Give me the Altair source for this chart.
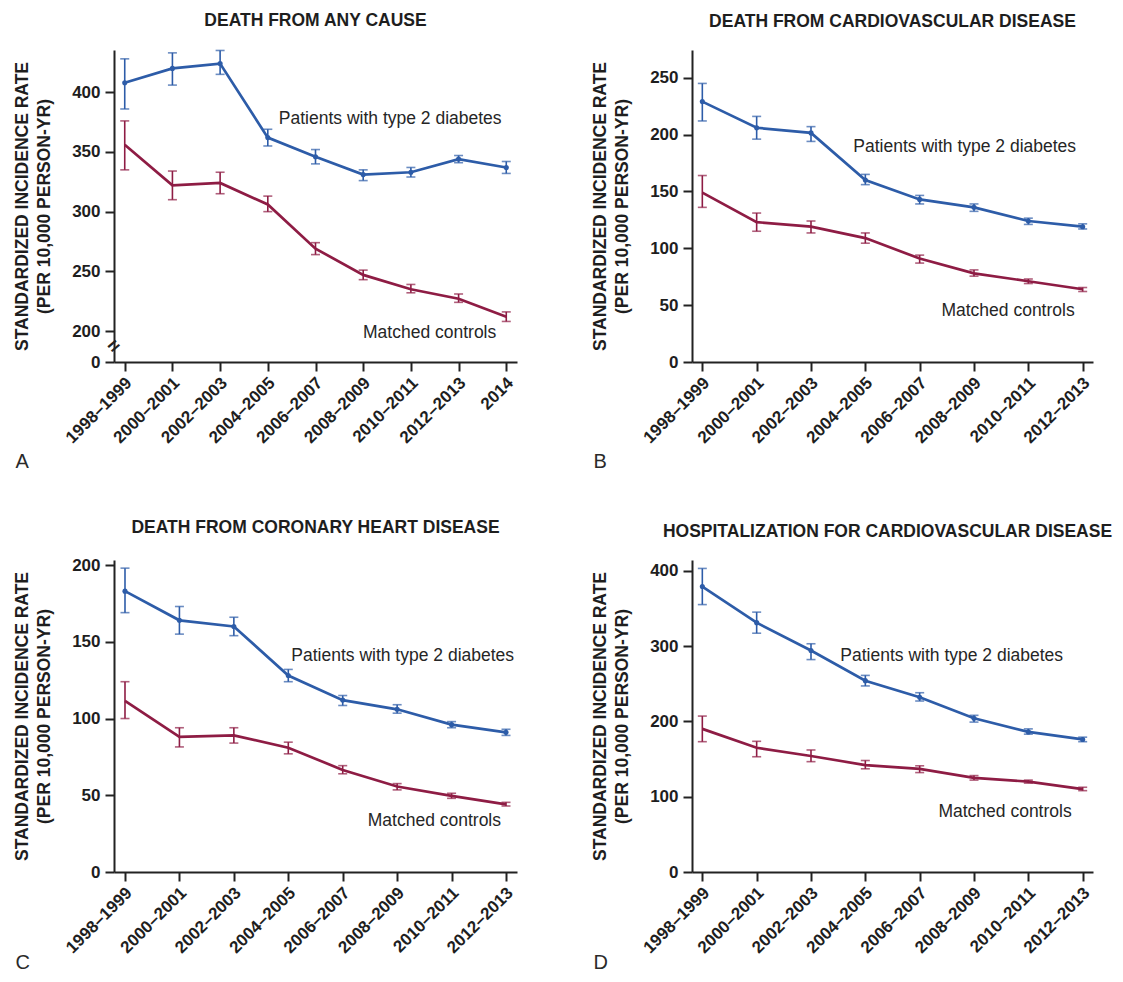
import altair as alt
import pandas as pd

FONT = "Liberation Sans"
BLUE = "#2d5ca8"
RED = "#8e1c44"
INK = "#1e1e1e"

DIAB = "Patients with type 2 diabetes"
CTRL = "Matched controls"

CATS_9 = ["1998–1999", "2000–2001", "2002–2003", "2004–2005", "2006–2007",
          "2008–2009", "2010–2011", "2012–2013", "2014"]
CATS_8 = ["1998–1999", "2000–2001", "2002–2003", "2004–2005", "2006–2007",
          "2008–2009", "2010–2011", "2012–2013"]

# Panel A: death from any cause
A_DIAB = [408, 420, 424, 362, 346, 331, 333, 344, 337]
A_DIAB_LO = [386, 406, 415, 355, 340, 326, 329, 341, 332]
A_DIAB_HI = [428, 433, 435, 369, 352, 335, 337, 347, 342]
A_CTRL = [356, 322, 324, 306, 269, 247, 235, 227, 212]
A_CTRL_LO = [335, 310, 315, 300, 264, 243, 232, 224, 208]
A_CTRL_HI = [376, 334, 333, 313, 274, 251, 239, 231, 216]

# Panel B: death from cardiovascular disease
B_DIAB = [229, 206, 201.5, 160, 143, 136, 124, 119]
B_DIAB_LO = [212, 196, 194, 156, 139, 132.5, 121, 117]
B_DIAB_HI = [245, 216, 207, 165, 146.5, 139, 126.5, 121.5]
B_CTRL = [149, 123, 119, 109, 91, 78, 71, 64]
B_CTRL_LO = [136, 115, 113.5, 104.5, 87, 75.5, 69, 62]
B_CTRL_HI = [164, 131, 124, 113.5, 94, 81, 73, 65.5]

# Panel C: death from coronary heart disease
C_DIAB = [183, 164, 160, 128, 112, 106, 96, 91]
C_DIAB_LO = [169, 155, 154, 124, 108.5, 103.5, 94, 89]
C_DIAB_HI = [198, 173, 166, 132, 115, 109, 98, 93]
C_CTRL = [111.5, 88, 89, 81, 66.5, 55.7, 49.6, 44.1]
C_CTRL_LO = [100, 81.5, 84, 77, 64, 53.5, 48, 43]
C_CTRL_HI = [124, 94, 94, 84.6, 69.3, 57.6, 51.3, 45.4]

# Panel D: hospitalization for cardiovascular disease
D_DIAB = [379, 331, 294, 254, 232, 204, 186, 176]
D_DIAB_LO = [355, 317, 282, 247, 227, 199, 183, 173]
D_DIAB_HI = [403, 345, 303, 261, 238, 208, 190, 179]
D_CTRL = [190, 165, 154, 142, 137, 125, 120, 110]
D_CTRL_LO = [173, 153, 146.5, 137, 132, 122, 118, 108]
D_CTRL_HI = [207, 173.5, 162, 148, 141, 128, 122, 112.5]

Y_TITLE = ["STANDARDIZED INCIDENCE RATE", "(PER 10,000 PERSON-YR)"]
H = 312


def panel(cats, diab, diab_lo, diab_hi, ctrl, ctrl_lo, ctrl_hi, title, letter,
          width, pad, ydomain, yrange, yticks, ann_diab, ann_ctrl, letter_y,
          title_dx=0, brk=False):
    rows = []
    for i, c in enumerate(cats):
        rows.append(dict(cat=c, group=DIAB, value=diab[i], lo=diab_lo[i], hi=diab_hi[i]))
        rows.append(dict(cat=c, group=CTRL, value=ctrl[i], lo=ctrl_lo[i], hi=ctrl_hi[i]))
    df = pd.DataFrame(rows)

    xs = alt.Scale(type="point", domain=cats, padding=pad)
    if yrange is not None:
        ys = alt.Scale(domain=ydomain, range=yrange, nice=False, zero=False)
    else:
        ys = alt.Scale(domain=ydomain, nice=False, zero=False)

    x_axis = alt.Axis(
        title=letter, titleX=-99, titleY=letter_y, titleAlign="left",
        titleBaseline="alphabetic", titleAngle=0, titleFontSize=20,
        titleFontWeight="normal", titleColor="#2a2a2a", titleFont=FONT,
        labelAngle=315, labelAlign="right", labelBaseline="middle",
        labelPadding=9, labelOffset=4, labelFontSize=17, labelFontWeight="bold",
        labelFont=FONT, labelColor=INK, tickSize=9, tickWidth=2, tickColor="#222",
        domainWidth=2, domainColor="#222", grid=False, labelOverlap=False,
    )
    y_axis = alt.Axis(
        title=Y_TITLE, titleX=-101, titleY=H / 2, titleAngle=270, titleAlign="center",
        titleBaseline="top", titleLineHeight=22, titleFontSize=17.5,
        titleFontWeight="bold", titleFont=FONT, titleColor=INK,
        values=yticks, labelFontSize=17, labelFontWeight="bold", labelFont=FONT,
        labelColor=INK, labelPadding=5, tickSize=9, tickWidth=2, tickColor="#222",
        domainWidth=2, domainColor="#222", grid=False, labelOverlap=False,
    )
    X = alt.X("cat:O", scale=xs, axis=x_axis)
    col = alt.Color("group:N", scale=alt.Scale(domain=[DIAB, CTRL], range=[BLUE, RED]),
                    legend=None)

    base = alt.Chart(df)
    rules = base.mark_rule(strokeWidth=1.6).encode(
        x=X, y=alt.Y("lo:Q", scale=ys, axis=y_axis), y2="hi:Q", color=col)
    cap_lo = base.mark_tick(orient="horizontal", size=9, thickness=1.6).encode(
        x=X, y=alt.Y("lo:Q", scale=ys, axis=y_axis), color=col)
    cap_hi = base.mark_tick(orient="horizontal", size=9, thickness=1.6).encode(
        x=X, y=alt.Y("hi:Q", scale=ys, axis=y_axis), color=col)
    lines = base.mark_line(strokeWidth=2.7).encode(
        x=X, y=alt.Y("value:Q", scale=ys, axis=y_axis), color=col, detail="group:N")
    dots = base.transform_filter(alt.datum.group == DIAB).mark_circle(
        size=26, opacity=1).encode(
        x=X, y=alt.Y("value:Q", scale=ys, axis=y_axis), color=col)

    def ann(spec, label, align):
        cat, val, dx = spec
        d = pd.DataFrame({"cat": [cat], "v": [val], "t": [label]})
        return alt.Chart(d).mark_text(
            align=align, baseline="middle", dx=dx, fontSize=17.5, font=FONT,
            color="#262626").encode(
            x=X, y=alt.Y("v:Q", scale=ys, axis=y_axis), text="t:N")

    layers = [rules, cap_lo, cap_hi, lines, dots,
              ann(ann_diab, DIAB, "left"), ann(ann_ctrl, CTRL, "right")]
    if brk:
        bd = pd.DataFrame({"v": [100], "t": ["="]})
        layers.append(alt.Chart(bd).mark_text(
            angle=320, fontSize=20, fontWeight="bold", font=FONT, color="#222",
            baseline="middle", align="center").encode(
            x=alt.value(0), y=alt.Y("v:Q", scale=ys, axis=y_axis), text="t:N"))

    return alt.layer(*layers).properties(
        width=width, height=H,
        title=alt.TitleParams(title, fontSize=17.5, fontWeight="bold", font=FONT,
                              color=INK, anchor="middle", offset=6, dx=title_dx,
                              baseline="alphabetic"))


pa = panel(CATS_9, A_DIAB, A_DIAB_LO, A_DIAB_HI, A_CTRL, A_CTRL_LO, A_CTRL_HI,
           "DEATH FROM ANY CAUSE", "A", 403, 0.225, [0, 200, 435.4], [H, 281, 0],
           [0, 200, 250, 300, 350, 400], ("2004–2005", 378, 11), ("2014", 187, -10),
           105, brk=True)
pb = panel(CATS_8, B_DIAB, B_DIAB_LO, B_DIAB_HI, B_CTRL, B_CTRL_LO, B_CTRL_HI,
           "DEATH FROM CARDIOVASCULAR DISEASE", "B", 401, 0.19, [0, 274.4], None,
           [0, 50, 100, 150, 200, 250], ("2004–2005", 189.5, -12), ("2012–2013", 44.5, -8),
           105)
pc = panel(CATS_8, C_DIAB, C_DIAB_LO, C_DIAB_HI, C_CTRL, C_CTRL_LO, C_CTRL_HI,
           "DEATH FROM CORONARY HEART DISEASE", "C", 403, 0.202, [0, 203.3], None,
           [0, 50, 100, 150, 200], ("2004–2005", 141, 3), ("2012–2013", 33, -5),
           96)
pd_ = panel(CATS_8, D_DIAB, D_DIAB_LO, D_DIAB_HI, D_CTRL, D_CTRL_LO, D_CTRL_HI,
            "HOSPITALIZATION FOR CARDIOVASCULAR DISEASE", "D", 401, 0.19, [0, 414.2], None,
            [0, 100, 200, 300, 400], ("2004–2005", 287, -25), ("2012–2013", 80, -11),
            96, title_dx=-5)

chart = alt.concat(pa, pb, pc, pd_, columns=2, spacing={"row": 198, "column": 175},
                   bounds="flush").configure_view(stroke=None).properties(
    background="white", padding={"top": 4, "left": 5, "right": 0, "bottom": 0})

chart.save("out.html", embed_options={"renderer": "svg", "actions": False})
